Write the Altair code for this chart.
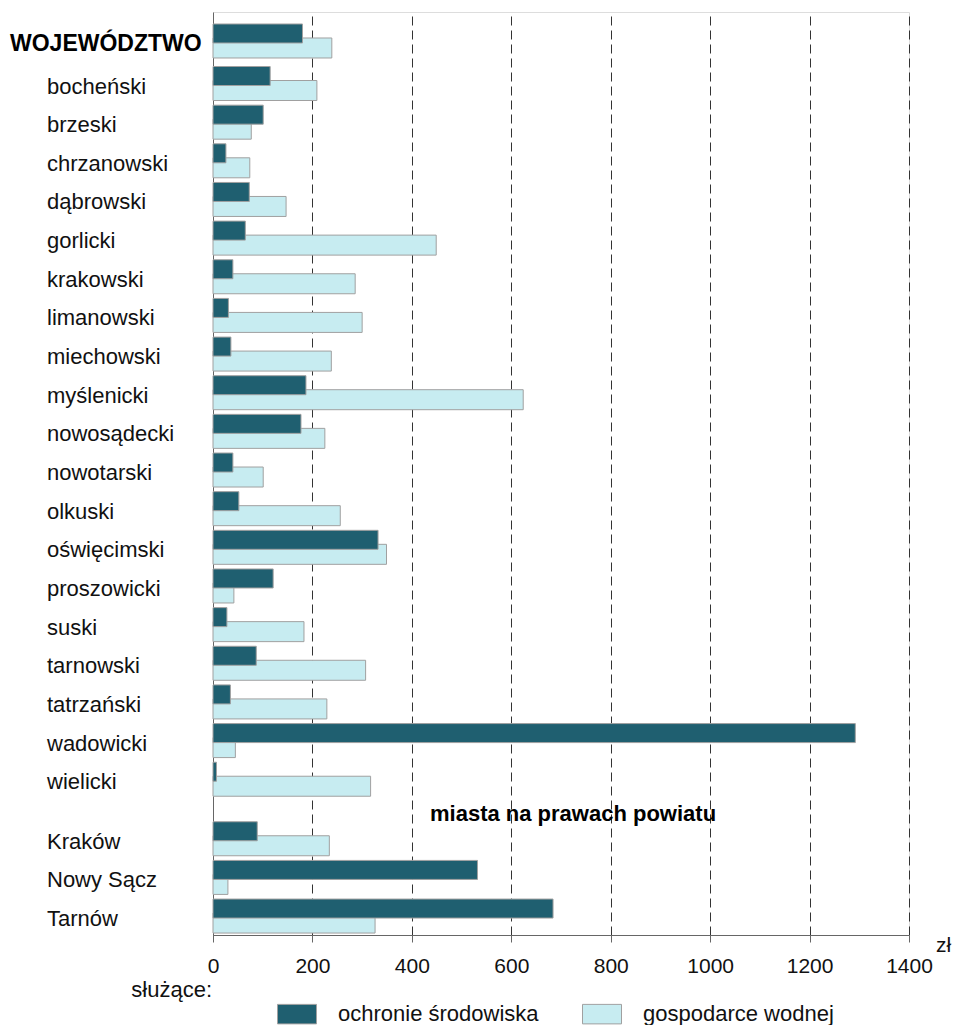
import altair as alt
import pandas as pd

# Wydatki na jednego mieszkańca (zł) wg powiatów
units = [
    "WOJEWÓDZTWO", "bocheński", "brzeski", "chrzanowski", "dąbrowski",
    "gorlicki", "krakowski", "limanowski", "miechowski", "myślenicki",
    "nowosądecki", "nowotarski", "olkuski", "oświęcimski", "proszowicki",
    "suski", "tarnowski", "tatrzański", "wadowicki", "wielicki",
    "Kraków", "Nowy Sącz", "Tarnów",
]
unit_kind = ["total"] + ["powiat"] * 19 + ["miasto"] * 3

ochrona = [180, 115, 101, 26, 73, 65, 40, 31, 36, 187,
           177, 40, 52, 332, 121, 28, 87, 35, 1292, 7,
           89, 532, 684]
woda = [239, 209, 77, 74, 147, 449, 286, 300, 238, 624,
        225, 101, 256, 349, 42, 183, 307, 229, 45, 317,
        234, 30, 326]

series_names = ["ochronie środowiska", "gospodarce wodnej"]
x_ticks = [0, 200, 400, 600, 800, 1000, 1200, 1400]

DARK = "#1f5f70"
LIGHT = "#c7ecf1"
EDGE = "#a0a0a0"
FONT = "Arial"
FS = 22        # row labels, legend
FS_BOLD = 23   # bold headings
FS_TICK = 21   # axis numbers


def row_pos(i, kind):
    # small extra gap after the voivodeship row, wider gap before the cities
    p = float(i)
    if i >= 1:
        p += 0.1
    if kind == "miasto":
        p += 0.54
    return p


rows = pd.DataFrame({
    "unit": units,
    "kind": unit_kind,
    "pos": [row_pos(i, k) for i, k in enumerate(unit_kind)],
})
long = pd.concat([
    rows.assign(series=series_names[0], value=ochrona),
    rows.assign(series=series_names[1], value=woda),
], ignore_index=True)

W, H = 696, 923

y_scale = alt.Scale(domain=[-0.75, 23.13], reverse=True, nice=False,
                    zero=False, padding=0)
x_scale = alt.Scale(domain=[0, 1400], nice=False, padding=0)

color = alt.Color(
    "series:N",
    scale=alt.Scale(domain=series_names, range=[DARK, LIGHT]),
    legend=alt.Legend(
        title=None,
        orient="none",
        legendX=64,
        legendY=982,
        direction="horizontal",
        symbolType="M-1,-0.5H1V0.5H-1Z",
        symbolSize=1521,
        symbolStrokeColor=EDGE,
        symbolStrokeWidth=1,
        symbolOpacity=1,
        labelFont=FONT,
        labelFontSize=FS,
        labelColor="#111111",
        labelOffset=21,
        columnPadding=41,
        labelLimit=400,
    ),
)

base = alt.Chart(long)

x_enc = alt.X(
    "value:Q",
    scale=x_scale,
    axis=alt.Axis(
        values=x_ticks,
        format="d",
        title=None,
        grid=True,
        gridDash=[9, 5],
        gridColor="#333333",
        gridWidth=1,
        domainColor="#666666",
        tickColor="#666666",
        tickSize=7,
        labelFont=FONT,
        labelFontSize=FS_TICK,
        labelColor="#111111",
        labelPadding=13,
        labelFlush=False,
    ),
)
y_enc = alt.Y(
    "pos:Q",
    scale=y_scale,
    axis=alt.Axis(
        title=None, labels=False, ticks=False, grid=False,
        domainColor="#666666",
    ),
)

light_bars = base.transform_filter(
    alt.datum.series == series_names[1]
).mark_bar(
    orient="horizontal", height=20, yOffset=7,
    stroke=EDGE, strokeWidth=1,
).encode(x=x_enc, y=y_enc, color=color)

dark_bars = base.transform_filter(
    alt.datum.series == series_names[0]
).mark_bar(
    orient="horizontal", height=19, yOffset=-7.5,
    stroke=EDGE, strokeWidth=1,
).encode(x="value:Q", y="pos:Q", color=color)

label_src = alt.Chart(rows)

district_labels = label_src.transform_filter(
    alt.datum.kind != "total"
).mark_text(
    align="left", baseline="alphabetic", dy=10,
    font=FONT, fontSize=FS, color="#111111",
).encode(x=alt.value(-166), y="pos:Q", text="unit:N")

total_label = label_src.transform_filter(
    alt.datum.kind == "total"
).mark_text(
    align="left", baseline="alphabetic", dy=10,
    font=FONT, fontSize=FS_BOLD, fontWeight="bold", color="#000000",
).encode(x=alt.value(-203), y="pos:Q", text="unit:N")

notes = pd.DataFrame({"t": ["miasta na prawach powiatu"]})
cities_header = alt.Chart(notes).mark_text(
    align="left", baseline="alphabetic",
    font=FONT, fontSize=FS, fontWeight="bold", color="#000000",
).encode(x=alt.value(217), y=alt.value(809), text="t:N")

unit_df = pd.DataFrame({"t": ["zł"]})
unit_label = alt.Chart(unit_df).mark_text(
    align="left", baseline="alphabetic",
    font=FONT, fontSize=FS_TICK, color="#111111",
).encode(x=alt.value(723), y=alt.value(940), text="t:N")

legend_df = pd.DataFrame({"t": ["służące:"]})
legend_title = alt.Chart(legend_df).mark_text(
    align="right", baseline="alphabetic",
    font=FONT, fontSize=FS, color="#111111",
).encode(x=alt.value(-1), y=alt.value(985), text="t:N")

chart = alt.layer(
    light_bars, dark_bars, district_labels, total_label,
    cities_header, unit_label, legend_title,
).properties(
    width=W,
    height=H,
    autosize="none",
    padding={"left": 213, "top": 12, "right": 48, "bottom": 90},
).configure_view(
    stroke=None,
).configure(
    background="white",
)

chart.save("out.html", embed_options={"renderer": "svg", "actions": False})
